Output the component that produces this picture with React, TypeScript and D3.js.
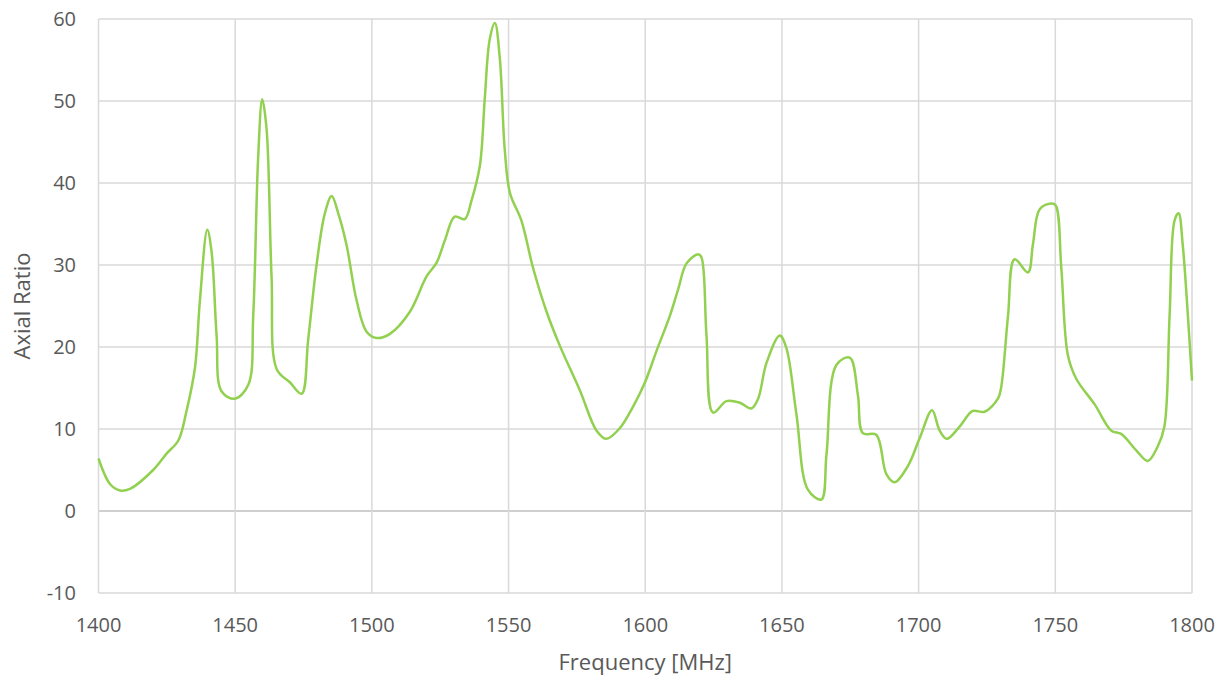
import React from 'react'
import * as d3 from 'd3'

const freq = [
  1400, 1404.2, 1407.9, 1411.5, 1420, 1424.9, 1429.2, 1432.2, 1435.3, 1437.1, 1439.8, 1441.4, 1443.2, 1445,
  1449.9, 1454.8, 1456.6, 1458.4, 1459.9, 1461.5, 1463.3, 1465.2, 1470, 1474.3, 1476.7, 1479.8, 1482.8,
  1485.3, 1487.7, 1490.7, 1494.4, 1498, 1501.7, 1506.6, 1513.9, 1520, 1523.7, 1526.7, 1530.3, 1534, 1536.4,
  1539.5, 1541.3, 1543.1, 1545, 1546.8, 1548.6, 1550.5, 1554.7, 1559, 1563.9, 1568.7, 1576.1, 1582.2,
  1585.8, 1590.7, 1595.5, 1599.8, 1604.1, 1609, 1612, 1615.1, 1619.3, 1620.5, 1622.4, 1624.8, 1629.7,
  1634.6, 1638.8, 1641.3, 1644.3, 1649.2, 1651.6, 1655.3, 1659.5, 1664.4, 1666.3, 1669.9, 1674.8, 1677.8,
  1679.6, 1684.5, 1688.2, 1691.2, 1696.1, 1700.4, 1704.9, 1707.7, 1710.3, 1715, 1719.8, 1724.1, 1729,
  1730.2, 1732.7, 1735.1, 1740, 1741.8, 1744.3, 1748.5, 1750.1, 1752.2, 1754.6, 1757.7, 1764.4, 1770.5,
  1774.1, 1779.6, 1783.8, 1787.5, 1789.9, 1791.8, 1793.6, 1795.1, 1796.6, 1798.5, 1800
]
const axialRatio = [
  6.4, 3.3, 2.5, 2.7, 5.0, 7.0, 8.6, 12.2, 17.5, 25.7, 34.3, 31.5, 21.4, 14.6,
  13.7, 15.4, 23.8, 43.1, 50.2, 46.5, 28.6, 17.3, 15.7, 14.3, 20.9, 30.1, 36.3,
  38.4, 36.3, 32.5, 25.7, 21.9, 21.1, 21.6, 24.3, 28.6, 30.3, 33, 35.9, 35.6, 37.8,
  42.1, 50.3, 57.5, 59.5, 55.2, 44.1, 38.8, 35.4, 29.6, 24.3, 20.2, 14.7, 9.8,
  8.8, 10.1, 12.7, 15.6, 19.5, 23.8, 27, 30.2, 31.3, 31, 21.4, 12, 13.4,
  13.2, 12.5, 13.7, 18, 21.4, 19.9, 11.8, 2.6, 1.4, 6.9, 17.8, 18.7, 14.1,
  9.5, 9.3, 4.5, 3.5, 5.5, 8.9, 12.3, 9.8, 8.8, 10.3, 12.2, 12.1, 13.7,
  15.1, 23.8, 30.7, 29.1, 32.5, 36.8, 37.5, 37.3, 29.6, 19, 16.1, 13, 9.8,
  9.4, 7.4, 6.1, 7.9, 10.3, 23.8, 35.4, 36.3, 32.5, 23.8, 15.9
]
const xTicks = [1400, 1450, 1500, 1550, 1600, 1650, 1700, 1750, 1800]
const yTicks = [-10, 0, 10, 20, 30, 40, 50, 60]

const W = 1230
const H = 680
const left = 98.5
const right = 1192
const top = 19
const bottom = 593
const font = '"Open Sans", sans-serif'
const textColor = '#595959'

export default function App() {
  const x = d3.scaleLinear().domain([1400, 1800]).range([left, right])
  const y = d3.scaleLinear().domain([-10, 60]).range([bottom, top])
  const pts: [number, number][] = freq.map((f, i) => [f, axialRatio[i]])
  const line = d3.line<[number, number]>()
    .x(d => x(d[0]))
    .y(d => y(d[1]))
    .curve(d3.curveCatmullRom.alpha(0.5))

  return (
    <svg width={W} height={H} style={{ position: 'absolute', left: 0, top: 0, background: '#fff' }}>
      <rect width={W} height={H} fill="#fff" />
      {yTicks.map(t => (
        <line key={'gy' + t} x1={left} x2={right} y1={y(t)} y2={y(t)}
          stroke={t === 0 ? '#bfbfbf' : '#d9d9d9'} strokeWidth={1.5} />
      ))}
      {xTicks.map(t => (
        <line key={'gx' + t} x1={x(t)} x2={x(t)} y1={top} y2={bottom}
          stroke="#d9d9d9" strokeWidth={1.5} />
      ))}
      <path d={line(pts) || ''} fill="none" stroke="#92d050" strokeWidth={2.5} strokeLinejoin="round" />
      {yTicks.map(t => (
        <text key={'ty' + t} x={76} y={y(t)} dy="0.35em" textAnchor="end"
          fontFamily={font} fontSize={20} fill={textColor}>{t}</text>
      ))}
      {xTicks.map(t => (
        <text key={'tx' + t} x={x(t)} y={625} dy="0.35em" textAnchor="middle"
          fontFamily={font} fontSize={20} fill={textColor}>{t}</text>
      ))}
      <text x={(left + right) / 2} y={662} dy="0.35em" textAnchor="middle"
        fontFamily={font} fontSize={22} fill={textColor}>Frequency [MHz]</text>
      <text transform={`translate(22,${(top + bottom) / 2}) rotate(-90)`} dy="0.35em" textAnchor="middle"
        fontFamily={font} fontSize={22} fill={textColor}>Axial Ratio</text>
    </svg>
  )
}
